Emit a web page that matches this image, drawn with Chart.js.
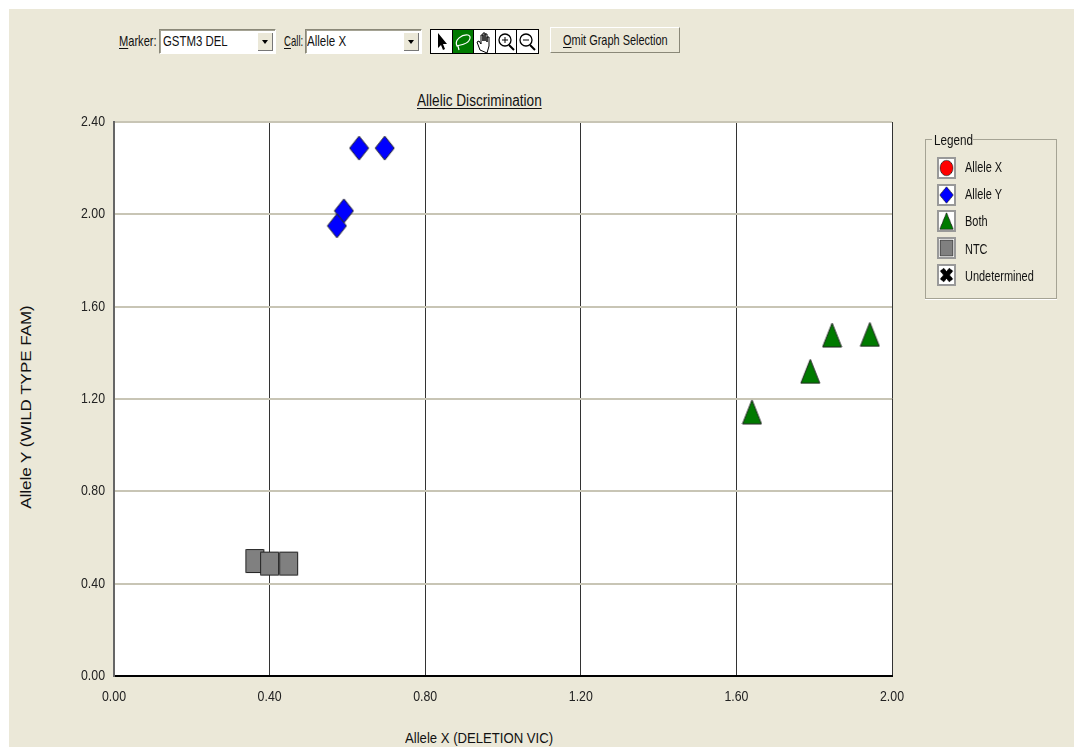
<!DOCTYPE html>
<html>
<head>
<meta charset="utf-8">
<title>Allelic Discrimination</title>
<script src="https://cdn.jsdelivr.net/npm/chart.js"></script>
<style>
  html, body { margin: 0; padding: 0; background: #fff; }
  body { width: 1074px; height: 747px; position: relative; overflow: hidden; font-family: "Liberation Sans", sans-serif; font-size: 15px; color: #111; }
  #panel { position: absolute; left: 9px; top: 9px; right: 0; bottom: 0; background: #ebe8d8; }
  #chartBox { position: absolute; left: 0; top: 0; width: 1074px; height: 747px; }
  .abs { position: absolute; white-space: nowrap; }
  .sq { transform-origin: left center; }
  .field { background: #fff; border: 1px solid #8a8878; border-right-color: #fff; border-bottom-color: #fff; box-shadow: inset 1px 1px 0 #a5a394; box-sizing: border-box; }
  .arrow { position: absolute; top: 3px; right: 2px; width: 15px; height: 18px; background: #ebe8d8; border-right: 1px solid #777; border-bottom: 1px solid #777; box-sizing: border-box; }
  .arrow:after { content: ""; position: absolute; left: 4px; top: 7px; border: 3px solid transparent; border-top: 4px solid #000; }
  .tools { left: 430px; top: 29px; width: 109px; height: 25px; background: #000; display: flex; gap: 1px; padding: 1px; box-sizing: border-box; }
  .tools span { flex: 1; background: #fff; display: block; }
  .tools span.on { background: #007a00; }
  .tools svg { width: 20px; height: 23px; display: block; }
  #omit { left: 550px; top: 27px; width: 130px; height: 26px; box-sizing: border-box; background: #ebe8d8; border: 1px solid; border-color: #fff #8a8878 #8a8878 #fff; }
  #legendBox { left: 925px; top: 139px; width: 132px; height: 160px; box-sizing: border-box; border: 1px solid #a5a394; box-shadow: 0 1px 0 #fff; }
  #legendTitle { left: 932px; top: 132px; width: 41px; height: 16px; background: #ebe8d8; }
  .swatch { left: 937px; width: 19px; height: 22px; box-sizing: border-box; background: #fff; border: 2px solid #999; }
  u { text-decoration-thickness: 1px; text-underline-offset: 2px; }
</style>
</head>
<body>
<div id="panel"></div>

<div class="abs sq" style="left:119px;top:32px;transform:scaleX(.74)"><u>M</u>arker:</div>
<div class="abs field" style="left:159px;top:29px;width:117px;height:25px"><div class="abs sq" style="left:3px;top:2px;transform:scaleX(.76)">GSTM3 DEL</div><div class="arrow"></div></div>
<div class="abs sq" style="left:284px;top:32px;transform:scaleX(.64)"><u>C</u>all:</div>
<div class="abs field" style="left:305px;top:29px;width:117px;height:25px"><div class="abs sq" style="left:1px;top:2px;transform:scaleX(.77)">Allele X</div><div class="arrow"></div></div>

<div class="abs tools">
  <span><svg viewBox="0 0 20 23"><path d="M7 3v15l3-3 2 5 2-1-2-5h4z" fill="#000"/></svg></span>
  <span class="on"><svg viewBox="0 0 20 23"><path d="M4 16c-3-6 5-12 11-11 4 1 2 7-4 9-2 1-5 1-7 2zm1 0 1 4" fill="none" stroke="#fff" stroke-width="1.2"/></svg></span>
  <span><svg viewBox="0 0 20 23"><path d="M6 20 3 12l2-1 2 3V5h2v6-8h2v8-7h2v8-5h2v9l-2 7z" fill="#fff" stroke="#000"/></svg></span>
  <span><svg viewBox="0 0 20 23"><circle cx="9" cy="10" r="6" fill="none" stroke="#000" stroke-width="1.3"/><path d="M13 15l5 5" stroke="#000" stroke-width="2"/><path d="M6 10h6M9 7v6" stroke="#000"/></svg></span>
  <span><svg viewBox="0 0 20 23"><circle cx="9" cy="10" r="6" fill="none" stroke="#000" stroke-width="1.3"/><path d="M13 15l5 5" stroke="#000" stroke-width="2"/><path d="M6 10h6" stroke="#000"/></svg></span>
</div>
<div class="abs" id="omit"><div class="abs sq" style="left:12px;top:3px;transform:scaleX(.73)"><u>O</u>mit Graph Selection</div></div>

<div class="abs sq" style="left:417px;top:92px;font-size:16px;transform:scaleX(.85)"><u>Allelic Discrimination</u></div>
<div class="abs sq" style="left:405px;top:729px;transform:scaleX(.875)">Allele X (DELETION VIC)</div>
<div class="abs" style="left:25px;top:407px;width:0;height:0"><div class="abs" style="left:0;top:0;transform:translate(-50%,-50%) rotate(-90deg) scaleX(1.13)">Allele Y (WILD TYPE FAM)</div></div>

<div id="chartBox"><canvas id="chart" width="1074" height="747"></canvas></div>

<div class="abs" id="legendBox"></div>
<div class="abs" id="legendTitle"><div class="abs sq" style="left:2px;top:-1px;transform:scaleX(.78)">Legend</div></div>
<div id="legendItems"></div>

<script>
const xTicks = [0, 0.4, 0.8, 1.2, 1.6, 2.0];
const yTicks = [0, 0.4, 0.8, 1.2, 1.6, 2.0, 2.4];

const seriesNames = ["Allele X", "Allele Y", "Both", "NTC", "Undetermined"];
const seriesColors = ["#ff0000", "#0000ff", "#007a00", "#808080", "#000000"];
const seriesShapes = ["circle", "diamond", "triangle", "square", "cross"];

const alleleXPoints = [];
const alleleYPoints = [
  { x: 0.63, y: 2.287 }, { x: 0.696, y: 2.287 }, { x: 0.591, y: 2.015 }, { x: 0.573, y: 1.95 }
];
const bothPoints = [
  { x: 1.846, y: 1.477 }, { x: 1.943, y: 1.48 }, { x: 1.79, y: 1.32 }, { x: 1.64, y: 1.144 }
];
const ntcPoints = [
  { x: 0.362, y: 0.498 }, { x: 0.40, y: 0.487 }, { x: 0.449, y: 0.487 }
];
const undeterminedPoints = [];
const seriesPoints = [alleleXPoints, alleleYPoints, bothPoints, ntcPoints, undeterminedPoints];

// markers are a bit taller than wide, chart.js built-in ones are not, so draw them
function makeMarker(shape, color) {
  const w = 21, h = 26;
  const c = document.createElement("canvas");
  c.width = w; c.height = h;
  const g = c.getContext("2d");
  g.fillStyle = color;
  g.strokeStyle = "#222";
  g.lineWidth = 1;
  g.beginPath();
  if (shape === "circle") {
    g.ellipse(10.5, 13, 9, 11, 0, 0, Math.PI * 2);
  } else if (shape === "diamond") {
    g.moveTo(10.5, 1); g.lineTo(20, 13); g.lineTo(10.5, 25); g.lineTo(1, 13); g.closePath();
  } else if (shape === "triangle") {
    g.moveTo(10.5, 1); g.lineTo(20, 25); g.lineTo(1, 25); g.closePath();
  } else if (shape === "square") {
    g.rect(1.5, 1.5, 18, 23);
  } else {
    g.lineWidth = 7; g.strokeStyle = color;
    g.moveTo(4, 5); g.lineTo(17, 21); g.moveTo(17, 5); g.lineTo(4, 21);
    g.stroke();
    return c;
  }
  g.fill();
  g.stroke();
  return c;
}

const markers = seriesShapes.map((s, i) => makeMarker(s, seriesColors[i]));

// legend panel on the right
const legendItems = document.getElementById("legendItems");
seriesNames.forEach((name, i) => {
  const sw = document.createElement("div");
  sw.className = "abs swatch";
  sw.style.top = (157 + i * 26.7) + "px";
  const m = makeMarker(seriesShapes[i], seriesColors[i]);
  m.style.cssText = "display:block;width:15px;height:18px";
  sw.appendChild(m);
  legendItems.appendChild(sw);
  const label = document.createElement("div");
  label.className = "abs sq";
  label.style.left = "965px";
  label.style.top = (158 + i * 27.2) + "px";
  label.style.transform = "scaleX(.73)";
  label.textContent = name;
  legendItems.appendChild(label);
});

// white plot area, and squeeze the tick labels to the narrow look of the original
const plotStyle = {
  id: "plotStyle",
  beforeDraw(chart) {
    const { ctx, chartArea: a } = chart;
    ctx.save();
    ctx.fillStyle = "#fff";
    ctx.fillRect(a.left, a.top, a.right - a.left, a.bottom - a.top);
    ctx.restore();
    if (!ctx.narrowed) {
      const fillText = ctx.fillText.bind(ctx);
      ctx.fillText = (t, x, y) => fillText(t, x, y, 24);
      ctx.narrowed = true;
    }
  }
};

const tickFont = { family: "'Liberation Sans', sans-serif", size: 15 };

new Chart(document.getElementById("chart"), {
  type: "scatter",
  data: {
    datasets: seriesNames.map((name, i) => ({
      label: name,
      data: seriesPoints[i],
      pointStyle: markers[i],
      pointRadius: 10
    }))
  },
  plugins: [plotStyle],
  options: {
    responsive: false,
    animation: false,
    layout: { padding: { left: 17, right: 182, top: 122, bottom: 0 } },
    plugins: { legend: { display: false }, tooltip: { enabled: false }, title: { display: false } },
    scales: {
      x: {
        type: "linear",
        min: 0,
        max: 2,
        afterBuildTicks: (axis) => { axis.ticks = xTicks.map(v => ({ value: v })); },
        afterFit: (axis) => { axis.height = 71; },
        grid: { color: "#333333", lineWidth: 1, drawTicks: false },
        border: { color: "#000000", width: 2 },
        ticks: { color: "#222", font: tickFont, padding: 12, maxRotation: 0, callback: v => v.toFixed(2) }
      },
      y: {
        type: "linear",
        min: 0,
        max: 2.4,
        afterBuildTicks: (axis) => { axis.ticks = yTicks.map(v => ({ value: v })); },
        afterFit: (axis) => { axis.width = 97; },
        grid: { color: "#c8c5b5", lineWidth: 2, drawTicks: false },
        border: { color: "#666666", width: 2 },
        ticks: { color: "#222", font: tickFont, padding: 9, callback: v => v.toFixed(2) }
      }
    }
  }
});
</script>
</body>
</html>
